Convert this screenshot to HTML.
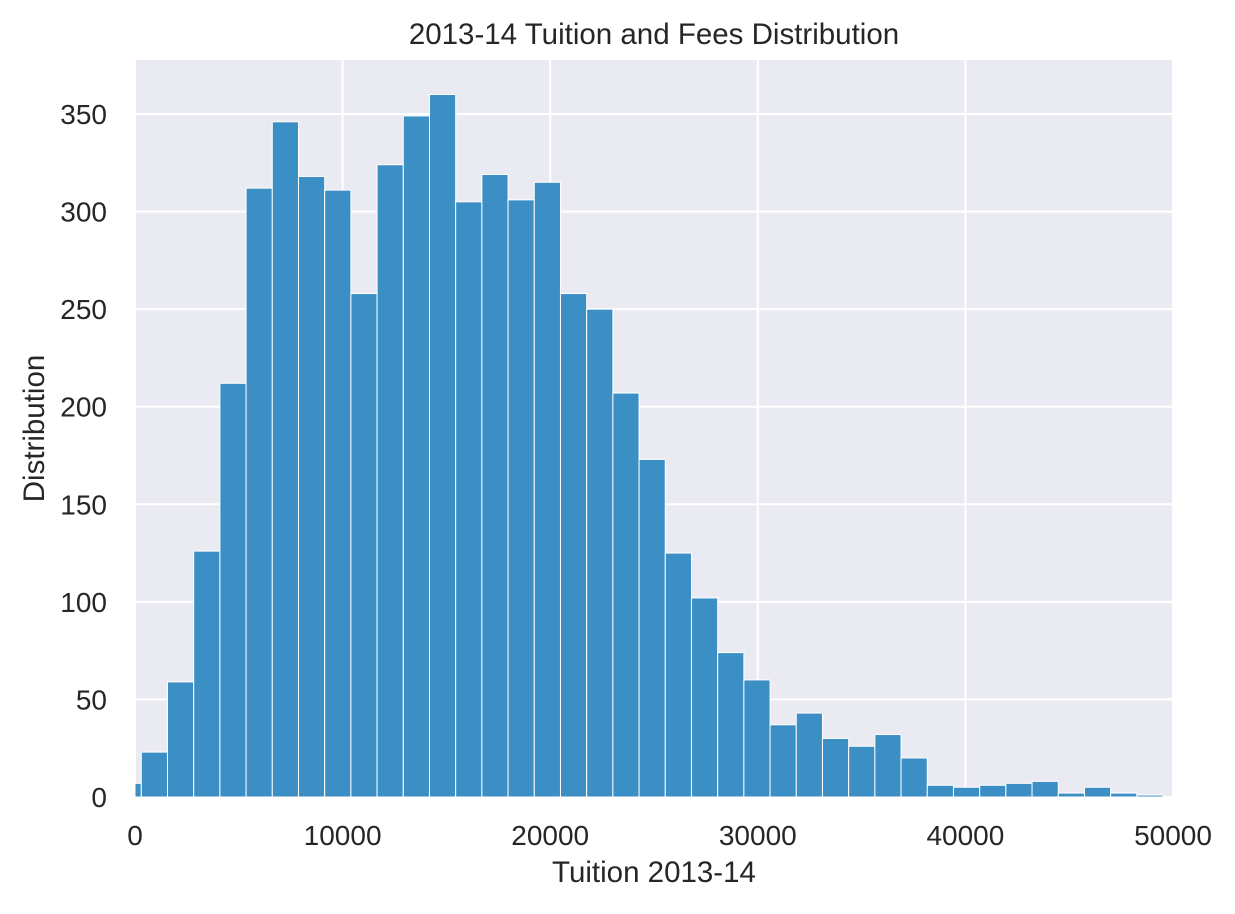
<!DOCTYPE html>
<html><head><meta charset="utf-8"><style>
body{margin:0;background:#fff;font-family:"Liberation Sans","DejaVu Sans",sans-serif}
</style></head><body>
<svg id="chart" width="1235" height="909" xmlns="http://www.w3.org/2000/svg" style="font-family:'Liberation Sans','DejaVu Sans',sans-serif" fill="#262626"></svg>
<script>
const binStart = -959;
const binWidth = 1262;
const counts = [7,23,59,126,212,312,346,318,311,258,324,349,360,305,319,306,315,258,250,207,173,125,102,74,60,37,43,30,26,32,20,6,5,6,7,8,2,5,2,1];
const xTicks = [0,10000,20000,30000,40000,50000];
const yTicks = [0,50,100,150,200,250,300,350];
const L=135,R=1173,T=60,B=797;
const xs=v=>L+(v-0)/50000*(R-L);
const ys=v=>B-v/350*(B-114);
const svg=document.getElementById('chart');
const NS='http://www.w3.org/2000/svg';
function mk(tag,attrs,parent){const e=document.createElementNS(NS,tag);for(const k in attrs)e.setAttribute(k,attrs[k]);(parent||svg).appendChild(e);return e;}
const bg=mk('rect',{x:L,y:T,width:R-L,height:B-T,fill:'#eaeaf2'});


const grid=mk('g',{stroke:'#fff','stroke-width':2});


xTicks.forEach(t=>mk('line',{x1:xs(t),x2:xs(t),y1:T,y2:B},grid));
yTicks.forEach(t=>mk('line',{x1:L,x2:R,y1:ys(t),y2:ys(t)},grid));
const bars=mk('g',{});


counts.forEach((c,i)=>{let x0=xs(binStart+i*binWidth),x1=xs(binStart+(i+1)*binWidth);
x0=Math.max(x0,L);x1=Math.min(x1,R);
if(x1<=x0)return;
const r=mk('rect',{x:x0,y:ys(c),width:x1-x0,height:B-ys(c),fill:'rgb(59,143,196)',stroke:'#fff','stroke-width':1},bars);

});
const tx=mk('g',{style:'font-size:28px','text-anchor':'middle'});


xTicks.forEach(t=>{const e=mk('text',{x:xs(t),y:845},tx);e.textContent=t;});
const ty=mk('g',{style:'font-size:28px','text-anchor':'end'});


yTicks.forEach(t=>{const e=mk('text',{x:L-28,y:ys(t)+10},ty);e.textContent=t;});
const title=mk('text',{x:(L+R)/2,y:44,style:'font-size:29.5px','text-anchor':'middle'});title.textContent='2013-14 Tuition and Fees Distribution';


const xl=mk('text',{x:(L+R)/2,y:882,style:'font-size:29.5px','text-anchor':'middle'});xl.textContent='Tuition 2013-14';


const yl=mk('text',{x:0,y:0,style:'font-size:29.5px','text-anchor':'middle',transform:'translate(44,'+((T+B)/2)+') rotate(-90)'});yl.textContent='Distribution';


</script>
</body></html>
